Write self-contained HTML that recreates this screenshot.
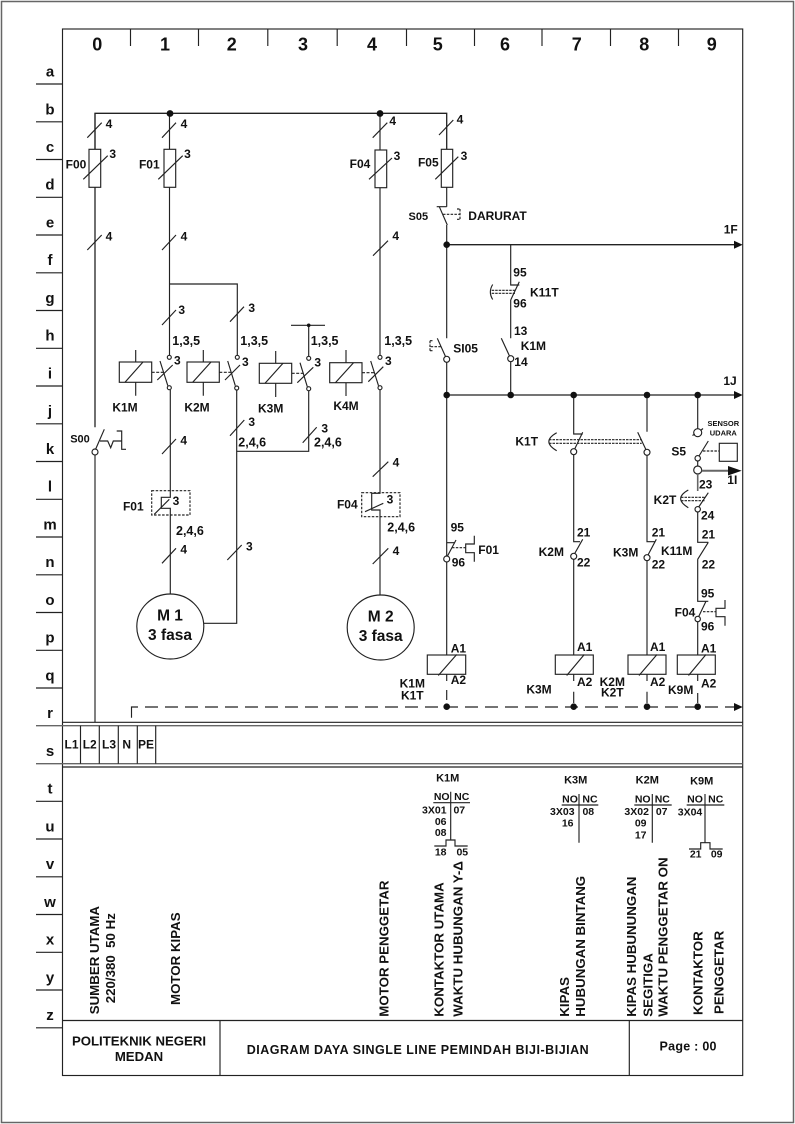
<!DOCTYPE html>
<html><head><meta charset="utf-8"><title>Diagram</title>
<style>
html,body{margin:0;padding:0;background:#fff;width:795px;height:1124px;overflow:hidden}
svg{display:block}
text{font-family:"Liberation Sans",sans-serif;font-weight:bold;font-size:12px;fill:#111;stroke:none}
.m{text-anchor:middle}
.s{font-size:11px}
.n{font-size:10.5px}
.l{font-size:15px;text-anchor:middle}
.t{font-size:18px;text-anchor:middle}
.v{font-size:13.3px}
.c{font-size:12.5px}
.f{font-size:15.5px;text-anchor:middle}
</style></head><body>
<svg width="795" height="1124" viewBox="0 0 795 1124" xmlns="http://www.w3.org/2000/svg">
<rect width="795" height="1124" fill="#fff"/>
<g fill="none" stroke="#222" stroke-width="1.15">
<rect x="1.5" y="1.5" width="792" height="1121" stroke="#666" stroke-width="1.5"/>
<rect x="62.5" y="29" width="680.2" height="1046.5"/>
<path d="M130.5 29V46M198.5 29V46M267.8 29V46M337.2 29V46M406.5 29V46M474.5 29V46M542 29V46M610.5 29V46M678.5 29V46"/>
<path d="M36 84H62.5M36 121.8H62.5M36 159.5H62.5M36 197.3H62.5M36 235H62.5M36 272.8H62.5M36 310.5H62.5M36 348.3H62.5M36 386H62.5M36 423.8H62.5M36 461.5H62.5M36 499.3H62.5M36 537H62.5M36 574.8H62.5M36 612.5H62.5M36 650.3H62.5M36 688H62.5M36 801.3H62.5M36 839H62.5M36 876.8H62.5M36 914.5H62.5M36 952.3H62.5M36 990H62.5M36 1027.8H62.5"/>
<path d="M36 725.7H742.7M36 763.7H742.7" stroke="#666" stroke-width="1.4"/>
<path d="M62.5 722.3H742.7M62.5 767H742.7"/>
<path d="M80.5 725.7V763.7M99.3 725.7V763.7M118.3 725.7V763.7M137.3 725.7V763.7M155.7 725.7V763.7"/>
<path d="M62.5 1020.5H742.7M220 1020.5V1075.5M629.3 1020.5V1075.5"/>

<!-- bus -->
<path d="M95 427.3V113.3H446.7V149.3" stroke-width="1.3"/>
<path d="M95 455V722.3"/>
<path d="M169.5 113V149M169.5 187.3V357M380 113V150M380 187.7V355.5M446.7 187.3V206.7M95 113V149.3"/>
<!-- fuses -->
<rect x="89" y="149.3" width="11.7" height="38" fill="#fff"/>
<rect x="164" y="149.3" width="11.7" height="38" fill="#fff"/>
<rect x="375" y="150" width="11.7" height="37.7" fill="#fff"/>
<rect x="441.3" y="149.3" width="11.4" height="38" fill="#fff"/>
<path d="M83.3 179.3L107.7 155.7M158.3 179.3L182.7 155.7M369 179.3L392 158M435.3 179.3L458.3 156.7"/>
<!-- ticks -->
<path d="M87.3 137.7L101.7 122.7M162 137.7L176 122.7M372.7 137.7L387.3 122.7M439 135L453.3 120"/>
<path d="M87.3 250L101.7 235M162 250L176 235M373 255.7L388 240.7"/>
<path d="M162 325L176 310M230 321.7L244 306.7"/>
<path d="M169.5 284H237.3V355"/>
<path d="M291 325.3H325M308.7 325.3V356" />
<!-- coils top -->
<g fill="#fff">
<rect x="119.3" y="362" width="32.4" height="20.3"/>
<rect x="187" y="362" width="32.3" height="20.3"/>
<rect x="259.3" y="363.3" width="32.4" height="20"/>
<rect x="329.7" y="362.7" width="32.3" height="20"/>
</g>
<path d="M135.7 350V362M135.7 382.3V395.7M203.3 350V362M203.3 382.3V395.7M275.7 351V363.3M275.7 383.3V397M346 350V362.7M346 382.7V396"/>
<path d="M125 382.3L143 362M192.7 382.3L211 362M265 383.3L283 363.3M335.4 382.7L353.5 362.7"/>
<path d="M151.7 372.3H164M219.3 372.3H232M291.7 373.3H304M362 372.7H375" stroke-dasharray="3 1.5"/>
<path d="M160 361L167.8 385.7M227.7 361L235.3 385.7M300 362.7L307.3 386.7M370.7 361L378.5 385.7"/>
<path d="M157.3 380L172.7 365M225 380L240 365M297.3 382.7L313.3 367.3M368.3 381.7L383.3 366.7"/>
<g fill="#fff">
<circle cx="169.3" cy="357.3" r="2"/><circle cx="237.3" cy="357.3" r="2"/><circle cx="308.7" cy="358.3" r="2"/><circle cx="380" cy="357.3" r="2"/>
<circle cx="169.3" cy="387.7" r="2"/><circle cx="236.7" cy="388" r="2"/><circle cx="308.7" cy="388.7" r="2"/><circle cx="380" cy="387.7" r="2"/>
</g>
<path d="M170.3 390V497.3H161.3V508.3H170.3V594"/>
<path d="M380 390V493.3H371.7V510H380V595.3"/>
<path d="M236.7 390V623.3H203.5"/>
<path d="M308.7 390.7V451.3H236.7"/>
<path d="M230 435.7L244.3 420M302.7 442.7L316.7 427.3M162 454L176 439M227.3 560L241.7 545M162 563.3L176 548.3M372.7 476.7L388.3 461.7M372.7 564L388.3 548.3"/>
<rect x="151.7" y="490.7" width="38.3" height="24.3" stroke-dasharray="2.5 1.5"/>
<rect x="361.7" y="492.7" width="38.3" height="24" stroke-dasharray="2.5 1.5"/>
<path d="M154.3 514.3L169.3 499.3M365 511.7L383.3 503.3"/>
<ellipse cx="170.3" cy="626.5" rx="33.5" ry="32.5" fill="#fff"/>
<ellipse cx="380.7" cy="627.5" rx="33.5" ry="32.5" fill="#fff"/>
<!-- S00 -->
<circle cx="95" cy="452" r="3" fill="#fff"/>
<path d="M95.5 449.5L104.3 429.3M100 441H107.7L110.7 447.7L113.3 441H121.7M116.7 431H121.7V449.3H126"/>

<!-- column 5 -->
<path d="M436.7 206.7H446.7M439.3 206.7L447.3 225M446.7 225V338.3M446.7 362.5V655"/>
<path d="M443 214.3H460M460 209V219.3M457 209H460M457 219.3H460" stroke-dasharray="2.5 1.3"/>
<path d="M446.7 244.7H735" stroke-width="1.3"/>
<path d="M446.7 395H735" stroke-width="1.3"/>
<path d="M437.3 338.3L445.5 356.5"/>
<circle cx="446.7" cy="359.3" r="3" fill="#fff"/>
<path d="M430.7 346.7H441M430 340.7V350.7M430 340.7H433M430 350.7H433" stroke-dasharray="2.5 1.3"/>
<!-- column 6 -->
<path d="M510.7 244.7V285H519.3M519.3 281.7L510.7 300M510.7 300V338.3M510.7 361.7V395"/>
<path d="M491.7 290.3H515M491.7 293.3H515" stroke-dasharray="2.5 1"/>
<path d="M492.7 284.5Q488 292 492.7 299.5"/>
<path d="M501.3 338.3L509.5 356"/>
<circle cx="510.7" cy="358.7" r="3" fill="#fff"/>
<!-- K1T -->
<path d="M573.7 395V434H582.7M582.7 432.3L574.7 449M647 395V431.7M637.7 432.3L646 449.7"/>
<path d="M549 439.7H641.7M549 443.3H641.7" stroke-dasharray="2.5 1"/>
<path d="M556.7 432.7Q541 441.5 556.7 450.7"/>
<circle cx="573.7" cy="451.7" r="3" fill="#fff"/>
<circle cx="647" cy="452.3" r="3" fill="#fff"/>
<path d="M573.7 454.7V541.7H580M582.7 539.3L574.7 553.5M573.7 559.3V655"/>
<circle cx="573.7" cy="556.3" r="3" fill="#fff"/>
<path d="M647 455.3V541.7H655M656.3 539.3L648 555M647 560.7V655"/>
<circle cx="647" cy="557.7" r="3" fill="#fff"/>
<!-- column 9 -->
<path d="M697.7 395V429"/>
<circle cx="697.7" cy="432.7" r="4" fill="#fff"/>
<path d="M692.5 435.5L694.8 434M700.6 430.5L703 428.5M708.3 441L699 456"/>
<circle cx="697.7" cy="458.3" r="2.7" fill="#fff"/>
<path d="M703 451H719.3" stroke-dasharray="2.5 1.3"/>
<rect x="719.3" y="443.3" width="18" height="18"/>
<path d="M697.7 461V466"/>
<circle cx="697.7" cy="470" r="4" fill="#fff"/>
<path d="M701.7 470.7H729" stroke="#666" stroke-width="2"/>
<path d="M697.7 474V491" stroke="#666" stroke-width="1.6"/>
<path d="M688.3 490Q673 498.5 688.3 507.7"/>
<path d="M681 497.3H705M681 500.7H705" stroke-dasharray="2.5 1"/>
<path d="M708.3 492.7L698.7 507"/>
<circle cx="697.7" cy="509.3" r="2.7" fill="#fff"/>
<path d="M697.7 512V542.3H708.3M708.3 542.3L697.7 559.3M697.7 559.3V601.3H708.3M706 601.3L698.7 616.5M697.7 621.7V655"/>
<circle cx="697.7" cy="619" r="2.7" fill="#fff"/>
<path d="M703 611.7H716" stroke-dasharray="2.5 1.3"/>
<path d="M725 600V608.3H716V616.7H725V625.7"/>
<!-- F01 aux -->
<path d="M446.7 542.7H455M456 540L447.5 556"/>
<circle cx="446.7" cy="559" r="3" fill="#fff"/>
<path d="M452 547.7H465.7" stroke-dasharray="2.5 1.3"/>
<path d="M474.3 535.7V544H465.7V552.7H474.3V561.7"/>
<!-- coils bottom -->
<g fill="#fff">
<rect x="427.3" y="655" width="38.4" height="19.3"/>
<rect x="555.3" y="655" width="38" height="19.3"/>
<rect x="628" y="655" width="38" height="19.3"/>
<rect x="677.3" y="655" width="38" height="19.3"/>
</g>
<path d="M438.3 675.5L456.7 654.5M566.7 675.5L584.3 654.5M639 675.5L657 654.5M688.5 675.5L706 654.5"/>
<path d="M446.7 674.3V681M446.7 690V700M573.7 674.3V681M573.7 691.7V703M647 674.3V681M647 691.7V703M697.7 674.3V681M697.7 693V703"/>
<path d="M131.5 717.7V707H138"/>
<path d="M145 707H734" stroke-dasharray="13 7" stroke-width="1.3"/>
<!-- contact tables -->
<path d="M433.3 802.7H470M450.7 791.7V840M434.3 846H446V840H455V846H467.7"/>
<path d="M561.7 805H598.3M579 794V842.7"/>
<path d="M634.3 805H671.7M652.3 794V842.7"/>
<path d="M686.7 805H724.3M705 794V842.7M689 849H700.7V842.7H710V849H722.7"/>
</g>
<g fill="#111" stroke="none">
<circle cx="170" cy="113.5" r="3.4"/><circle cx="380" cy="113.5" r="3.4"/>
<circle cx="308.7" cy="325.3" r="1.8"/>
<circle cx="446.7" cy="244.7" r="3.3"/>
<circle cx="446.7" cy="395" r="3.3"/><circle cx="510.7" cy="395" r="3.3"/><circle cx="573.7" cy="395" r="3.3"/><circle cx="647" cy="395" r="3.3"/><circle cx="697.7" cy="395" r="3.3"/>
<circle cx="446.7" cy="706.7" r="3.3"/><circle cx="573.7" cy="706.7" r="3.3"/><circle cx="647" cy="706.7" r="3.3"/><circle cx="697.7" cy="706.7" r="3.3"/>
<path d="M742.7 244.7L734 240.7V248.7Z"/>
<path d="M742.7 395L734 391V399Z"/>
<path d="M742.7 707L734 703V711Z"/>
<path d="M741.7 470.7L728 466V475.5Z"/>
</g>

<!-- grid labels -->
<text class="t" x="97.3" y="50.7">0</text><text class="t" x="165" y="50.7">1</text><text class="t" x="231.7" y="50.7">2</text><text class="t" x="303" y="50.7">3</text><text class="t" x="372" y="50.7">4</text><text class="t" x="437.7" y="50.7">5</text><text class="t" x="505" y="50.7">6</text><text class="t" x="576.7" y="50.7">7</text><text class="t" x="644.3" y="50.7">8</text><text class="t" x="711.7" y="50.7">9</text>
<text class="l" x="50" y="76.3">a</text><text class="l" x="50" y="114.3">b</text><text class="l" x="50" y="152">c</text><text class="l" x="50" y="189.6">d</text><text class="l" x="50" y="227.3">e</text><text class="l" x="50" y="265">f</text><text class="l" x="50" y="302.8">g</text><text class="l" x="50" y="340.6">h</text><text class="l" x="50" y="378.3">i</text><text class="l" x="50" y="416">j</text><text class="l" x="50" y="453.8">k</text><text class="l" x="50" y="491.6">l</text><text class="l" x="50" y="529.3">m</text><text class="l" x="50" y="567">n</text><text class="l" x="50" y="604.8">o</text><text class="l" x="50" y="642.6">p</text><text class="l" x="50" y="680.3">q</text><text class="l" x="50" y="718">r</text><text class="l" x="50" y="756">s</text><text class="l" x="50" y="793.5">t</text><text class="l" x="50" y="831.3">u</text><text class="l" x="50" y="869">v</text><text class="l" x="50" y="906.8">w</text><text class="l" x="50" y="944.6">x</text><text class="l" x="50" y="982.3">y</text><text class="l" x="50" y="1020">z</text>

<!-- top-left labels -->
<text class="m" x="109" y="128">4</text><text class="m" x="184" y="128">4</text><text class="m" x="392.7" y="125">4</text><text class="m" x="460" y="123.3">4</text>
<text class="m" x="112.7" y="158">3</text><text class="m" x="187.5" y="158">3</text><text class="m" x="397" y="160">3</text><text class="m" x="464" y="160">3</text>
<text class="m" x="76" y="168.7">F00</text><text class="m" x="149.3" y="168.7">F01</text><text class="m" x="360" y="168">F04</text><text class="m" x="428.3" y="166.7">F05</text>
<text class="m" x="109" y="240.7">4</text><text class="m" x="184" y="240.7">4</text><text class="m" x="395.7" y="240">4</text>
<text class="m" x="181.7" y="314">3</text><text class="m" x="251.7" y="312">3</text>
<text class="c" x="172.3" y="345">1,3,5</text><text class="c" x="240.3" y="345">1,3,5</text><text class="c" x="310.7" y="345">1,3,5</text><text class="c" x="384.3" y="345">1,3,5</text>
<text class="m" x="177.3" y="364.3">3</text><text class="m" x="245.3" y="366">3</text><text class="m" x="317.7" y="366.7">3</text><text class="m" x="388.3" y="365">3</text>
<text class="m" x="125" y="411.7">K1M</text><text class="m" x="197" y="411.7">K2M</text><text class="m" x="270.7" y="412.3">K3M</text><text class="m" x="346" y="410">K4M</text>
<text class="m" x="251.7" y="426">3</text><text class="m" x="324.7" y="432.7">3</text>
<text class="c" x="238.3" y="446.7">2,4,6</text><text class="c" x="314" y="446.7">2,4,6</text>
<text class="m" x="183.7" y="444.3">4</text><text class="m s" x="80" y="442.7">S00</text>
<text class="m" x="176" y="505">3</text><text class="m" x="133.3" y="510.3">F01</text><text class="c" x="176" y="535">2,4,6</text>
<text class="m" x="183.7" y="553.3">4</text><text class="m" x="249.3" y="550.7">3</text>
<text class="m" x="396" y="466.7">4</text><text class="m" x="390" y="503.3">3</text><text class="m" x="347.3" y="508.3">F04</text><text class="c" x="387.3" y="531.7">2,4,6</text><text class="m" x="396" y="555">4</text>
<text class="f" x="170" y="620.7">M 1</text><text class="f" x="170" y="640">3 fasa</text>
<text class="f" x="380.7" y="621.7">M 2</text><text class="f" x="380.7" y="641">3 fasa</text>

<!-- right labels -->
<text class="s" x="408.5" y="220">S05</text>
<text x="468.3" y="220">DARURAT</text>
<text class="m" x="730.7" y="233.3">1F</text><text class="m" x="730" y="385">1J</text>
<text x="513.3" y="276.7">95</text><text x="513.3" y="307.3">96</text><text x="530" y="296.7">K11T</text>
<text x="514" y="335">13</text><text x="520.7" y="350">K1M</text><text x="514.3" y="366">14</text>
<text x="453.3" y="352.3">SI05</text>
<text class="m" x="526.7" y="445.7">K1T</text>
<text class="m" x="723.3" y="426" style="font-size:7.5px">SENSOR</text><text class="m" x="723.3" y="435.7" style="font-size:7.5px">UDARA</text>
<text class="m" x="678.7" y="455.7">S5</text>
<text class="m" x="732.3" y="484">1I</text><text x="699" y="488.3">23</text><text class="m" x="665" y="504">K2T</text><text x="701" y="519.3">24</text>
<text class="m" x="457.3" y="531.7">95</text><text x="478.3" y="554">F01</text><text x="451.7" y="566.7">96</text>
<text x="577" y="536.7">21</text><text x="577" y="566.7">22</text><text class="m" x="551.3" y="556">K2M</text>
<text x="651.7" y="536.7">21</text><text x="651.7" y="568.3">22</text><text class="m" x="625.7" y="556.7">K3M</text><text x="661" y="555">K11M</text>
<text x="701.7" y="538.3">21</text><text x="701.7" y="568.3">22</text><text x="701" y="597.7">95</text><text class="m" x="685" y="616.7">F04</text><text x="701" y="630.7">96</text>
<text x="450.7" y="652.3">A1</text><text x="450.7" y="684">A2</text>
<text x="577" y="651">A1</text><text x="577" y="686">A2</text>
<text x="650" y="651">A1</text><text x="650" y="686">A2</text>
<text x="701" y="652.3">A1</text><text x="701" y="687.3">A2</text>
<text class="m" x="412.3" y="687.3">K1M</text><text class="m" x="412.3" y="699.3">K1T</text>
<text class="m" x="539" y="693.3">K3M</text>
<text class="m" x="612.3" y="686">K2M</text><text class="m" x="612.3" y="696.7">K2T</text>
<text class="m" x="680.7" y="694">K9M</text>

<!-- s row -->
<text class="m" x="71.5" y="748.3">L1</text><text class="m" x="89.7" y="748.3">L2</text><text class="m" x="109" y="748.3">L3</text><text class="m" x="126.7" y="748.3">N</text><text class="m" x="146" y="748.3">PE</text>

<!-- tables -->
<text class="m s" x="447.7" y="781.7">K1M</text>
<text class="m n" x="441.7" y="800">NO</text><text class="m n" x="461.7" y="800">NC</text>
<text class="m n" x="434.3" y="813.3">3X01</text><text class="m n" x="459.3" y="813.3">07</text><text class="m n" x="440.7" y="825">06</text><text class="m n" x="440.7" y="836">08</text>
<text class="m n" x="440.7" y="855.7">18</text><text class="m n" x="462.3" y="855.7">05</text>
<text class="m s" x="575.7" y="783.3">K3M</text>
<text class="m n" x="570" y="802.3">NO</text><text class="m n" x="590" y="802.3">NC</text>
<text class="m n" x="562.3" y="815">3X03</text><text class="m n" x="588.3" y="815">08</text><text class="m n" x="567.7" y="826.7">16</text>
<text class="m s" x="647.3" y="783.3">K2M</text>
<text class="m n" x="642.7" y="802.3">NO</text><text class="m n" x="662.3" y="802.3">NC</text>
<text class="m n" x="636.7" y="815">3X02</text><text class="m n" x="661.7" y="815">07</text><text class="m n" x="640.7" y="826.7">09</text><text class="m n" x="640.7" y="838.3">17</text>
<text class="m s" x="701.7" y="784.3">K9M</text>
<text class="m n" x="695" y="802.3">NO</text><text class="m n" x="715.7" y="802.3">NC</text>
<text class="m n" x="690" y="815.7">3X04</text>
<text class="m n" x="695.7" y="857.7">21</text><text class="m n" x="716.7" y="857.7">09</text>

<!-- vertical labels -->
<text class="v" transform="translate(99 1014.3) rotate(-90)">SUMBER UTAMA</text>
<text class="v" transform="translate(115 1003.3) rotate(-90)">220/380&#160;&#160;50 Hz</text>
<text class="v" transform="translate(180 1005) rotate(-90)">MOTOR KIPAS</text>
<text class="v" transform="translate(388.3 1016.7) rotate(-90)">MOTOR PENGGETAR</text>
<text class="v" transform="translate(443.3 1016.7) rotate(-90)">KONTAKTOR UTAMA</text>
<text class="v" transform="translate(462.7 1016.7) rotate(-90)">WAKTU HUBUNGAN Y-Δ</text>
<text class="v" transform="translate(569 1016.7) rotate(-90)">KIPAS</text>
<text class="v" transform="translate(585 1016.7) rotate(-90)">HUBUNGAN BINTANG</text>
<text class="v" transform="translate(636 1016.7) rotate(-90)">KIPAS HUBUNUNGAN</text>
<text class="v" transform="translate(652.3 1016.7) rotate(-90)">SEGITIGA</text>
<text class="v" transform="translate(667.7 1016.7) rotate(-90)">WAKTU PENGGETAR ON</text>
<text class="v" transform="translate(702.7 1015) rotate(-90)">KONTAKTOR</text>
<text class="v" transform="translate(723.3 1014) rotate(-90)">PENGGETAR</text>

<!-- title -->
<text class="m" x="139" y="1045.3" style="font-size:13.2px">POLITEKNIK NEGERI</text>
<text class="m" x="139" y="1061" style="font-size:13.2px">MEDAN</text>
<text x="246.7" y="1054" textLength="342" style="font-size:12.5px">DIAGRAM DAYA SINGLE LINE PEMINDAH BIJI-BIJIAN</text>
<text x="659.5" y="1050.7" textLength="57" style="font-size:12.5px">Page : 00</text>
</svg>
</body></html>
